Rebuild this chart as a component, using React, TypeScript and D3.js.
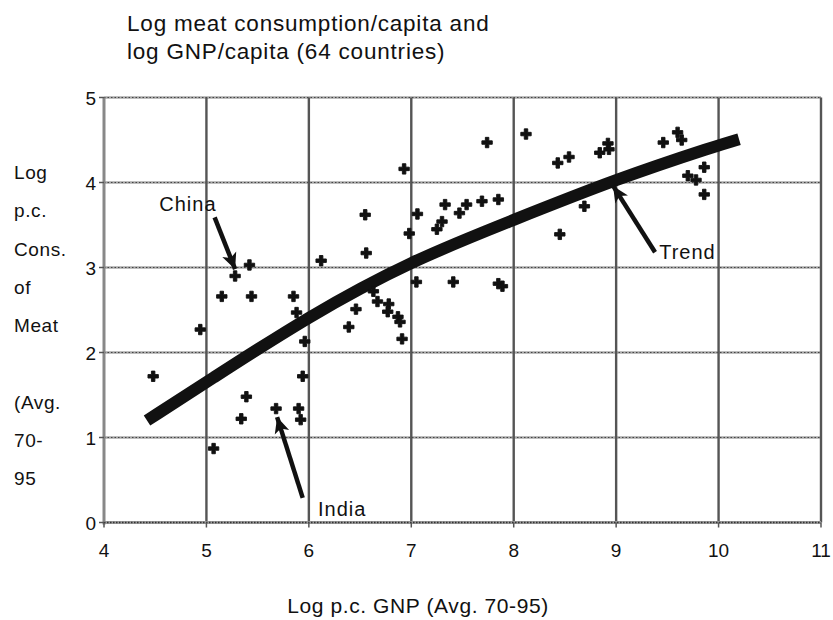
import React from 'react';
import * as d3 from 'd3';

// country points: log GNP per capita, log meat consumption per capita
const gnp = [
  5.28, 5.42, 6.12, 5.15, 5.44, 5.85, 5.88, 4.94, 5.96, 4.48,
  5.94, 5.39, 5.68, 5.90, 5.34, 5.92, 5.07,
  7.74, 6.93, 6.55, 7.06, 7.33, 7.54, 7.47, 7.69, 7.85, 7.30,
  7.25, 6.98, 6.56, 7.05, 7.41, 7.85, 7.89, 6.63, 6.67, 6.46,
  6.78, 6.77, 6.87, 6.89, 6.39, 6.91,
  8.12, 8.43, 8.54, 8.84, 8.92, 8.93, 8.69, 8.45,
  9.60, 9.64, 9.46, 9.86, 9.70, 9.78, 9.86,
];
const meat = [
  2.90, 3.03, 3.08, 2.66, 2.66, 2.66, 2.47, 2.27, 2.13, 1.72,
  1.72, 1.48, 1.34, 1.34, 1.22, 1.21, 0.87,
  4.47, 4.16, 3.62, 3.63, 3.74, 3.74, 3.64, 3.78, 3.80, 3.54,
  3.45, 3.40, 3.17, 2.83, 2.83, 2.81, 2.78, 2.72, 2.60, 2.51,
  2.57, 2.48, 2.42, 2.36, 2.30, 2.16,
  4.57, 4.23, 4.30, 4.35, 4.46, 4.39, 3.72, 3.39,
  4.59, 4.50, 4.47, 4.18, 4.08, 4.03, 3.86,
];

// fitted trend
const trendGnp = [4.42, 5.0, 6.0, 7.0, 8.0, 9.0, 10.0, 10.2];
const trendMeat = [1.2, 1.65, 2.43, 3.08, 3.56, 4.04, 4.44, 4.51];

const xTicks = [4, 5, 6, 7, 8, 9, 10, 11];
const yTicks = [0, 1, 2, 3, 4, 5];
const yTitleLines = ['Log', 'p.c.', 'Cons.', 'of', 'Meat', '', '(Avg.', '70-', '95'];
const titleLines = ['Log meat consumption/capita and', 'log GNP/capita (64 countries)'];

// annotations: label, label position, arrow tail, arrow tip (data units)
const notes = [
  { label: 'China', lx: 4.54, ly: 3.66, x0: 5.08, y0: 3.59, x1: 5.28, y1: 2.98 },
  { label: 'Trend', lx: 9.42, ly: 3.1, x0: 9.38, y0: 3.18, x1: 8.97, y1: 3.96 },
  { label: 'India', lx: 6.09, ly: 0.08, x0: 5.94, y0: 0.29, x1: 5.69, y1: 1.24 },
];

const W = 833;
const H = 620;
const font = '"Liberation Sans", Arial, sans-serif';

export default function App() {
  const x = d3.scaleLinear().domain([4, 11]).range([104, 821]);
  const y = d3.scaleLinear().domain([0, 5]).range([522.5, 97.5]);

  const trendLine = d3
    .line<number>()
    .x((_, i) => x(trendGnp[i]))
    .y((_, i) => y(trendMeat[i]))
    .curve(d3.curveBasis);

  const cross = d3.symbol().type(d3.symbolCross).size(60)();

  const arrowHead = (n: typeof notes[number]) => {
    const tx = x(n.x1), ty = y(n.y1);
    const a = Math.atan2(ty - y(n.y0), tx - x(n.x0));
    const len = 16, half = 7.5;
    const bx = tx - len * Math.cos(a), by = ty - len * Math.sin(a);
    const px = -Math.sin(a) * half, py = Math.cos(a) * half;
    return `M${tx},${ty}L${bx + px},${by + py}L${bx + 4 * Math.cos(a)},${by + 4 * Math.sin(a)}L${bx - px},${by - py}Z`;
  };

  return (
    <svg width={W} height={H} style={{ position: 'absolute', left: 0, top: 0, background: '#fff' }}>
      <g fontFamily={font} fill="#111">
        {titleLines.map((t, i) => (
          <text key={t} x={127} y={31 + i * 28} fontSize={22.5} letterSpacing={0.8}>{t}</text>
        ))}
      </g>

      {/* grid */}
      <g>
        {yTicks.filter((t) => t > 0).map((t) => (
          <g key={'h' + t}>
            <line x1={x(4)} x2={x(11)} y1={y(t)} y2={y(t)} stroke="#aaa" strokeWidth={2.4} />
            <line x1={x(4)} x2={x(11)} y1={y(t)} y2={y(t)} stroke="#444" strokeWidth={1} strokeDasharray="1.5,2" />
          </g>
        ))}
        {xTicks.filter((t) => t > 4).map((t) => (
          <line key={'v' + t} x1={x(t)} x2={x(t)} y1={y(5)} y2={y(0)} stroke="#555" strokeWidth={2.4} />
        ))}
        <line x1={x(4)} x2={x(4)} y1={y(5)} y2={y(0) + 2} stroke="#888" strokeWidth={3} />
        <line x1={x(4)} x2={x(11)} y1={y(0)} y2={y(0)} stroke="#999" strokeWidth={3} />
        <line x1={x(4)} x2={x(11)} y1={y(0)} y2={y(0)} stroke="#333" strokeWidth={1.4} strokeDasharray="1.5,1.5" />
        {yTicks.map((t) => (
          <line key={'yt' + t} x1={x(4) - 5} x2={x(4)} y1={y(t)} y2={y(t)} stroke="#555" strokeWidth={1.5} />
        ))}
        {xTicks.map((t) => (
          <line key={'xt' + t} x1={x(t)} x2={x(t)} y1={y(0)} y2={y(0) + 5} stroke="#555" strokeWidth={1.5} />
        ))}
      </g>

      {/* trend */}
      <path d={trendLine(trendGnp) || ''} fill="none" stroke="#111" strokeWidth={12} />

      {/* countries */}
      <g fill="#111" stroke="#111" strokeWidth={0.9}>
        {gnp.map((g, i) => (
          <path key={i} d={cross || ''} transform={`translate(${x(g)},${y(meat[i])})`} />
        ))}
      </g>

      {/* annotations */}
      <g fontFamily={font} fontSize={20} fill="#111">
        {notes.map((n) => (
          <g key={n.label}>
            <line x1={x(n.x0)} y1={y(n.y0)} x2={x(n.x1)} y2={y(n.y1)} stroke="#111" strokeWidth={4.5} />
            <path d={arrowHead(n)} fill="#111" />
            <text x={x(n.lx)} y={y(n.ly)} letterSpacing={1}>{n.label}</text>
          </g>
        ))}
      </g>

      {/* tick labels */}
      <g fontFamily={font} fontSize={19} fill="#111">
        {yTicks.map((t) => (
          <text key={'yl' + t} x={96} y={y(t) + 7} textAnchor="end">{t}</text>
        ))}
        {xTicks.map((t) => (
          <text key={'xl' + t} x={x(t)} y={557} textAnchor="middle">{t}</text>
        ))}
      </g>

      {/* axis titles */}
      <g fontFamily={font} fontSize={19} fill="#111" letterSpacing={0.6}>
        {yTitleLines.map((l, i) => (
          <text key={'yt' + i} x={14} y={179 + i * 38.3}>{l}</text>
        ))}
        <text x={418} y={613} fontSize={21} textAnchor="middle">Log p.c. GNP (Avg. 70-95)</text>
      </g>
    </svg>
  );
}
